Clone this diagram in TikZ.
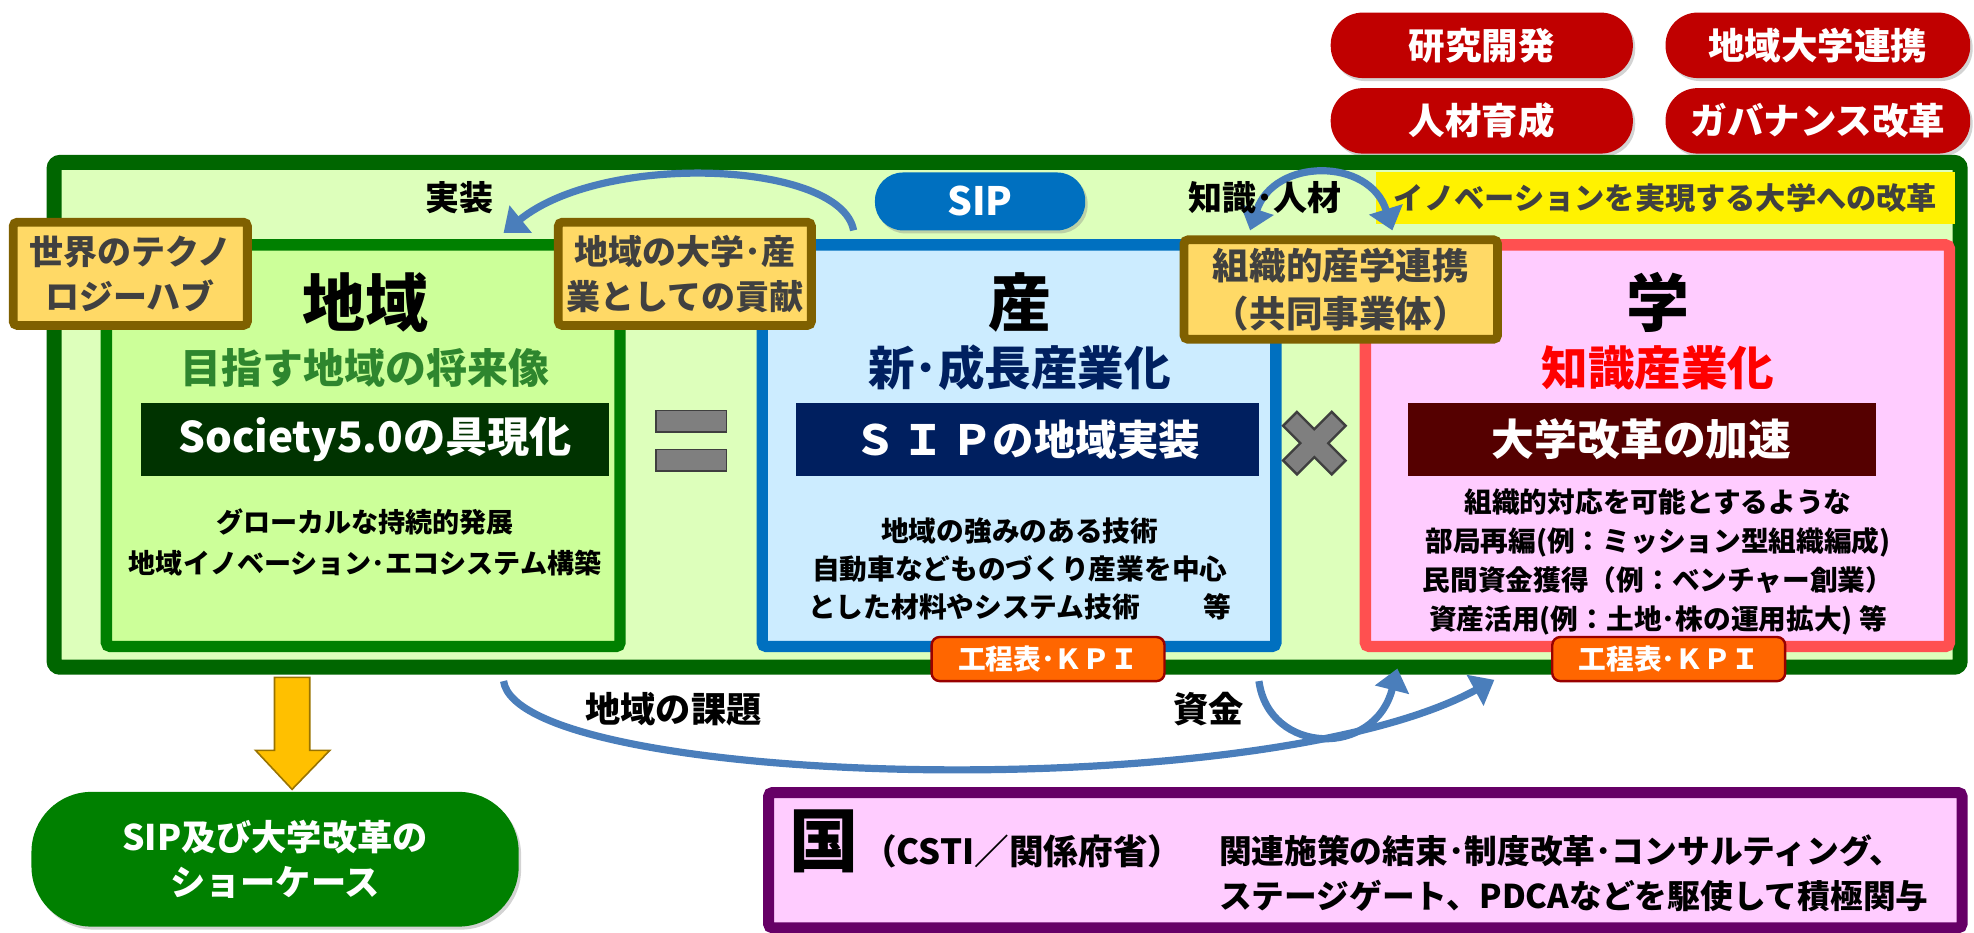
\documentclass[tikz,border=0pt]{standalone}
\usepackage{fontspec}
\setmainfont{Noto Sans CJK JP}
\usetikzlibrary{arrows.meta,shadows}
\newcommand\fsz[2]{\fontsize{\fpeval{#1*0.6295}pt}{\fpeval{#2*0.6295}pt}\selectfont}
\newcommand\boxnode[6]{\node[#2, anchor=north west, inner sep=0pt, outer sep=0pt, minimum width={(#5-#3)*0.6295pt}, minimum height={(#6-#4)*0.6295pt}] (#1) at (#3,#4) {};}
\definecolor{frameGreen}{HTML}{006600}
\definecolor{frameFill}{HTML}{DDFFBB}
\definecolor{chiikiLine}{HTML}{008000}
\definecolor{chiikiFill}{HTML}{CCFF99}
\definecolor{sanLine}{HTML}{0070C0}
\definecolor{sanFill}{HTML}{CCECFF}
\definecolor{gakuLine}{HTML}{FF5050}
\definecolor{gakuFill}{HTML}{FFCCFF}
\definecolor{pillRed}{HTML}{C00000}
\definecolor{noteFill}{HTML}{FFD966}
\definecolor{noteLine}{HTML}{7F6000}
\definecolor{darkText}{HTML}{404040}
\definecolor{arrowBlue}{HTML}{4A7EBB}
\definecolor{kpiFill}{HTML}{FF6600}
\definecolor{kpiLine}{HTML}{990000}
\definecolor{kuniLine}{HTML}{660066}
\definecolor{showGreen}{HTML}{008000}
\definecolor{goalGreen}{HTML}{2E862E}
\definecolor{sanText}{HTML}{002060}
\definecolor{socBox}{HTML}{003300}
\definecolor{sipBox}{HTML}{001F5F}
\definecolor{gakuBox}{HTML}{550000}
\definecolor{signGray}{HTML}{7F7F7F}
\definecolor{signLine}{HTML}{3F3F3F}
\definecolor{arrowYellow}{HTML}{FFC000}
\definecolor{arrowYellowLine}{HTML}{997300}
\begin{document}
\begin{tikzpicture}[x=0.6295pt,y=-0.6295pt,
  txt/.style={inner sep=0pt, align=center},
  fs/.style n args={2}{font=\bfseries\fsz{#1}{#2}},
  shad/.style={drop shadow={opacity=0.35, shadow xshift=1.2pt, shadow yshift=-1.5pt}},
  redpill/.style={fill=pillRed, rounded corners=16pt, shad},
  notebox/.style={fill=noteFill, draw=noteLine, line width=4.4pt, rounded corners=2pt},
  bigbox/.style={line width=5.7pt, rounded corners=2pt},
  kpibox/.style={fill=kpiFill, draw=kpiLine, line width=1.2pt, rounded corners=4pt},
  blockarrow/.style={draw=arrowBlue, line width=3.6pt, -{Triangle[width=17pt,length=11pt]}},
  dblarrow/.style={draw=arrowBlue, line width=3.6pt, {Triangle[width=17pt,length=11pt]}-{Triangle[width=17pt,length=11pt]}}
]
\useasboundingbox (0,0) rectangle (1568,741);

% red pills
\boxnode{pA}{redpill}{1057}{10}{1297}{62}
\boxnode{pB}{redpill}{1323}{10}{1565}{62}
\boxnode{pC}{redpill}{1057}{70}{1297}{122}
\boxnode{pD}{redpill}{1323}{70}{1565}{122}
\node[txt, fs={29}{34}, white] at (pA) {研究開発};
\node[txt, fs={29}{34}, white] at (pB) {地域大学連携};
\node[txt, fs={29}{34}, white] at (pC) {人材育成};
\node[txt, fs={29}{34}, white] at (pD) {ガバナンス改革};

% outer frame
\boxnode{frame}{fill=frameFill, draw=frameGreen, line width=7.5pt, rounded corners=3pt}{43}{129}{1557}{530}

% banner
\boxnode{banner}{fill=yellow}{1093}{137}{1553}{178}
\node[txt, fs={24}{28}, darkText] at (banner) {イノベーションを実現する大学への改革};

% SIP pill
\boxnode{sip}{fill=sanLine, rounded corners=14pt, shad}{695}{137}{862}{183}
\node[txt, fs={31}{34}, white] at (sip) {SIP};

% main boxes
\boxnode{chiiki}{bigbox, fill=chiikiFill, draw=chiikiLine}{84.5}{194.5}{492.5}{513.5}
\boxnode{san}{bigbox, fill=sanFill, draw=sanLine}{605.5}{194.5}{1013.5}{513.5}
\boxnode{gaku}{bigbox, fill=gakuFill, draw=gakuLine}{1084.5}{194.5}{1548.5}{513.5}

% note boxes
\boxnode{n1}{notebox}{10.5}{176.5}{196.5}{258.5}
\node[txt, fs={27}{36}, darkText] at (n1) {世界のテクノ\\ロジーハブ};
\boxnode{n2}{notebox}{443.5}{176.5}{644.5}{258.5}
\node[txt, fs={27}{36}, darkText] at (n2) {地域の大学･産\\業としての貢献};
\boxnode{n3}{notebox}{940.5}{190.5}{1189.5}{269.5}
\node[txt, fs={29}{38}, darkText] at (n3) {組織的産学連携\\（共同事業体）};

% chiiki contents
\node[txt, fs={50}{54}] (tC) at (290,240) {地域};
\node[txt, fs={32.5}{36}, goalGreen] (tC2) at (290,292) {目指す地域の将来像};
\boxnode{soc}{fill=socBox}{112}{320}{484}{378}
\node[txt, fs={33.5}{36}, white] at (soc) {Society5.0の具現化};
\node[txt, fs={21.5}{33}] (tC3) at (290,431) {グローカルな持続的発展\\地域イノベーション･エコシステム構築};

% san contents
\node[txt, fs={50}{54}] (tS) at (810,240) {産};
\node[txt, fs={37}{40}, sanText] (tS2) at (810,292) {新･成長産業化};
\boxnode{sipb}{fill=sipBox}{632}{320}{1000}{378}
\node[txt, fs={33}{36}, white] at (sipb) {Ｓ\,Ｉ\,Ｐの地域実装};
\node[txt, fs={22}{30}] (tS3) at (810,452) {地域の強みのある技術\\自動車などものづくり産業を中心\\とした材料やシステム技術\hspace{2.3em}等};

% gaku contents
\node[txt, fs={50}{54}] (tG) at (1317,240) {学};
\node[txt, fs={37}{40}, red] (tG2) at (1317,292) {知識産業化};
\boxnode{gkb}{fill=gakuBox}{1118}{320}{1490}{378}
\node[txt, fs={34}{38}, white] at (gkb) {大学改革の加速};
\node[txt, fs={22}{31}] (tG3) at (1317,446) {組織的対応を可能とするような\\部局再編(例：ミッション型組織編成)\\民間資金獲得（例：ベンチャー創業）\\資産活用(例：土地･株の運用拡大) 等};

% = sign
\draw[fill=signGray, draw=signLine, line width=0.8pt] (521,326) rectangle (577,343);
\draw[fill=signGray, draw=signLine, line width=0.8pt] (521,357) rectangle (577,374);
% x sign
\draw[signLine, line width=11pt] (1024,332) -- (1064,372) (1024,372) -- (1064,332);
\draw[signGray, line width=8.5pt] (1025.5,333.5) -- (1062.5,370.5) (1025.5,370.5) -- (1062.5,333.5);

% KPI boxes
\boxnode{k1}{kpibox}{740}{506}{925}{541}
\node[txt, fs={22}{26}, white] at (k1) {工程表･ＫＰＩ};
\boxnode{k2}{kpibox}{1233}{506}{1418}{541}
\node[txt, fs={22}{26}, white] at (k2) {工程表･ＫＰＩ};

% curved arrows
\coordinate (jTail) at (678,183);
\coordinate (jHead) at (400,185);
\draw[blockarrow] (jTail) .. controls (668,128) and (480,120) .. (jHead);
\coordinate (kL) at (993,183);
\coordinate (kR) at (1106,183);
\draw[dblarrow] (kL) .. controls (1012,125) and (1088,125) .. (kR);
\coordinate (rTail) at (400,541);
\coordinate (rHead) at (1187,540);
\draw[blockarrow] (rTail) .. controls (412,625) and (1000,642) .. (rHead);
\coordinate (fTail) at (1000,541);
\coordinate (fHead) at (1110,531);
\draw[blockarrow] (fTail) .. controls (1008,600) and (1092,602) .. (fHead);

% labels
\node[txt, fs={27}{30}] (lJ) at (365,157) {実装};
\node[txt, fs={27}{30}] (lK) at (1005,157) {知識･人材};
\node[txt, fs={28}{30}] (lR) at (535,563) {地域の課題};
\node[txt, fs={28}{30}] (lF) at (960,563) {資金};

% showcase pill and yellow arrow
\boxnode{show}{fill=showGreen, rounded corners=30pt, shad}{25}{629}{412}{736}
\node[txt, fs={28}{36}, white] at (show) {SIP及び大学改革の\\ショーケース};
\draw[fill=arrowYellow, draw=arrowYellowLine, line width=0.8pt]
  (218,538) -- (246,538) -- (246,596) -- (262,596) -- (232,627) -- (203,596) -- (218,596) -- cycle;

% kuni box
\boxnode{kuni}{fill=gakuFill, draw=kuniLine, line width=5.5pt, rounded corners=2pt}{610.5}{629.5}{1558.5}{737}
\node[txt, fs={55}{58}] (tK) at (655,668) {国};
\node[txt, fs={27.5}{30}] (tK2) at (812,676) {（CSTI／関係府省）};
\node[txt, fs={26}{30}, anchor=west] (tK3) at (968,676) {関連施策の結束･制度改革･コンサルティング、};
\node[txt, fs={26}{30}, anchor=west] (tK4) at (968,712) {ステージゲート、PDCAなどを駆使して積極関与};
\end{tikzpicture}
\end{document}
